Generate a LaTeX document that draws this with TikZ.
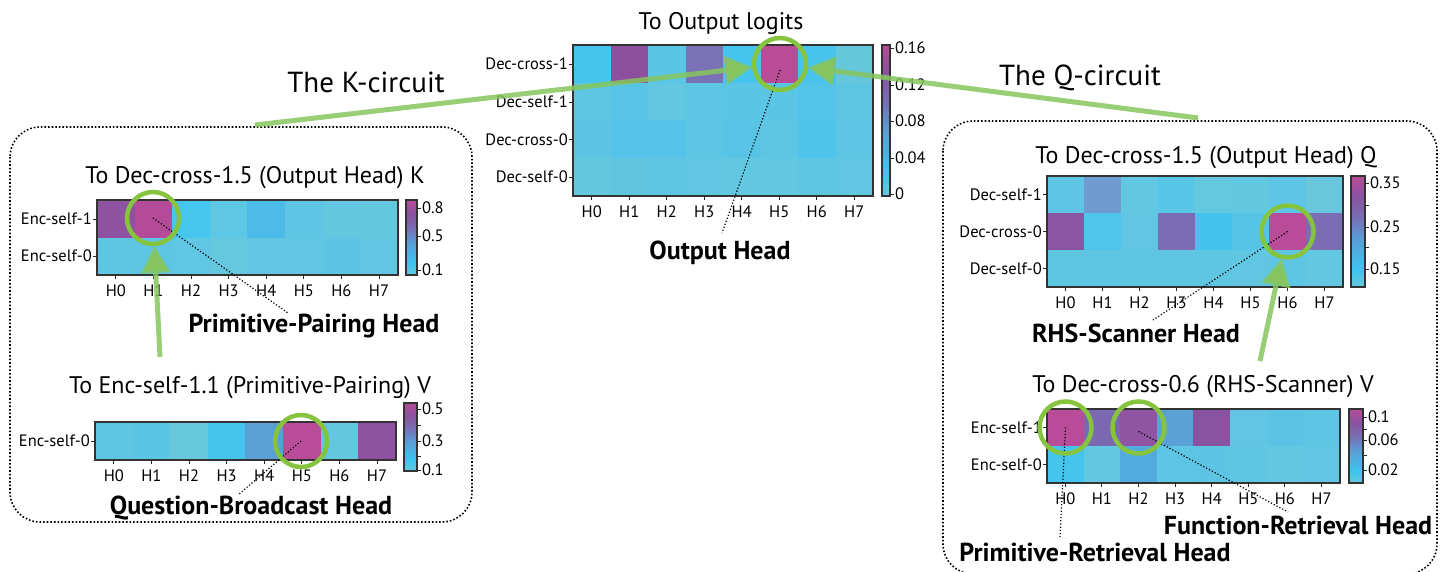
\documentclass[tikz,border=0pt]{standalone}
\usepackage{fontspec}
\setmainfont{PT Sans}
\usetikzlibrary{arrows.meta}

\definecolor{ringgreen}{HTML}{86C440}
\definecolor{flowgreen}{HTML}{86C55E}
\definecolor{cb0}{HTML}{66C8DC}
\definecolor{cb1}{HTML}{3EC4F0}
\definecolor{cb2}{HTML}{5A9CD6}
\definecolor{cb3}{HTML}{7A6CB2}
\definecolor{cb4}{HTML}{8A52A0}
\definecolor{cb5}{HTML}{B84C98}

% colour scale used by every colour bar (bottom to top)
\pgfdeclareverticalshading{cmap}{100bp}{color(0bp)=(cb0); color(25bp)=(cb0);
  color(33bp)=(cb1); color(47bp)=(cb2); color(57bp)=(cb3); color(66bp)=(cb4);
  color(75bp)=(cb5); color(100bp)=(cb5)}

% one row of heat-map cells: x0, top y, cell width, cell height, colours
\newcommand{\hmrow}[5]{%
  \foreach \c [count=\i from 0] in {#5} {%
    \definecolor{cellc}{HTML}{\c}%
    \fill[cellc] ({#1+\i*#3},#2) rectangle ++(#3,#4);}}

% column labels H0..H7 with ticks: x0, bottom y, cell width
\newcommand{\hmcols}[3]{%
  \foreach \i in {0,...,7} {%
    \draw[tickline] ({#1+(\i+0.5)*#3},#2) -- ++(0,4);
    \node[collab] (col-\i-#2) at ({#1+(\i+0.5)*#3},{#2+16}) {H\i};}}

% a row label with its tick: x0, y, text
\newcommand{\hmrowlab}[3]{%
  \draw[tickline] (#1,#2) -- ++(-4,0);
  \node[rowlab] (rl-#2-#1) at ({#1-5},#2) {#3};}

% colour bar: x1, y1, x2, y2
\newcommand{\cbar}[4]{%
  \shade[shading=cmap] (#1,#2) rectangle (#3,#4);
  \draw[frame] (#1,#2) rectangle (#3,#4);}

% colour-bar tick: x, y, label (empty for a minor tick)
\newcommand{\cbtick}[3]{%
  \draw[tickline] (#1,#2) -- ++(4,0);
  \node[cblab] (cb-#2-#1) at ({#1+5},#2) {#3};}

\tikzset{
  frame/.style={draw=black!80, line width=1.3pt},
  tickline/.style={draw=black!85, line width=0.9pt},
  rowlab/.style={anchor=east, inner sep=0pt, font=\fontsize{16.5}{16.5}\selectfont},
  collab/.style={inner sep=0pt, font=\fontsize{16.5}{16.5}\selectfont},
  cblab/.style={anchor=west, inner sep=0pt, font=\fontsize{16.5}{16.5}\selectfont},
  ttl/.style={inner sep=0pt, font=\fontsize{24}{24}\selectfont},
  circuitlab/.style={inner sep=0pt, font=\fontsize{29}{29}\selectfont},
  headlab/.style={inner sep=0pt, font=\bfseries\fontsize{26}{26}\selectfont},
  ring/.style={circle, draw=ringgreen, line width=4.5pt, minimum size=52pt, inner sep=0pt, outer sep=2pt},
  flow/.style={draw=flowgreen, draw opacity=0.85, line width=5pt,
    -{Triangle[length=27pt,width=28pt,fill=flowgreen]}},
  leader/.style={draw=black, line width=1.2pt, dotted},
  panel/.style={draw=black, line width=1.6pt, dotted, rounded corners=30pt},
}

\begin{document}
\begin{tikzpicture}[x=1pt,y=-1pt]
\useasboundingbox (0,0) rectangle (1440,572);

% ---------- dotted panels ----------
\draw[panel] (10,127) rectangle (472,522);
\draw[panel] (943,121) rectangle (1437,574);

% ---------- centre: to output logits ----------
\node[ttl] (t-out) at (721,24) {To Output logits};
\hmrow{573}{45}{37.5}{37.75}{45C4EE,8E4F9E,5AC6E6,7A72B5,45C4EE,B94C97,48C4EC,66C7DC}
\hmrow{573}{82.75}{37.5}{37.75}{5EC5E3,58C4E6,62C7E0,5CC6E4,5AC5E5,5AC5E5,52C4E9,5EC6E3}
\hmrow{573}{120.5}{37.5}{37.75}{5CC5E4,55C4E8,55C4E8,5CC6E4,58C4E6,5EC6E3,4FC4EA,5CC6E4}
\hmrow{573}{158.25}{37.5}{37.75}{62C7DF,60C6E0,5EC6E2,60C6E1,62C7E0,62C7E0,5FC6E2,60C6E1}
\draw[frame] (573,45) rectangle (873,196);
\hmrowlab{573}{64}{Dec-cross-1}
\hmrowlab{573}{102}{Dec-self-1}
\hmrowlab{573}{139.5}{Dec-cross-0}
\hmrowlab{573}{177}{Dec-self-0}
\hmcols{573}{196}{37.5}
\cbar{882}{45}{890}{196}
\cbtick{890}{48}{0.16}
\cbtick{890}{85}{0.12}
\cbtick{890}{121}{0.08}
\cbtick{890}{158}{0.04}
\cbtick{890}{194}{0}

% ---------- left top: K of the output head ----------
\node[ttl] (t-k) at (255,178) {To Dec-cross-1.5 (Output Head) K};
\hmrow{97}{200}{37.6}{37.5}{8E52A0,B44B98,45C6EE,5EC8E4,4CBBE7,5EC6E4,63C7E0,63C7DD}
\hmrow{97}{237.5}{37.6}{37.5}{5EC6E2,5EC6E2,5FC6E3,66C8DF,60C6E2,60C6E2,5CC5E4,60C6E2}
\draw[frame] (97,200) rectangle (398,275);
\hmrowlab{97}{219}{Enc-self-1}
\hmrowlab{97}{256}{Enc-self-0}
\hmcols{97}{275}{37.6}
\cbar{406}{200}{417}{275}
\cbtick{417}{208}{0.8}
\cbtick{417}{236}{0.5}
\cbtick{417}{270}{0.1}

% ---------- left bottom: V of the primitive-pairing head ----------
\node[ttl] (t-v1) at (250,388) {To Enc-self-1.1 (Primitive-Pairing) V};
\hmrow{95}{422}{37.6}{38}{5EC5E3,5AC4E5,67C7DD,45C4EE,5AA0D4,B84C98,62C7DF,8C52A0}
\draw[frame] (95,422) rectangle (396,460);
\hmrowlab{95}{441}{Enc-self-0}
\hmcols{95}{460}{37.6}
\cbar{404}{403}{417}{471}
\cbtick{417}{409}{0.5}
\cbtick{417}{425}{}
\cbtick{417}{441}{0.3}
\cbtick{417}{456}{}
\cbtick{417}{470}{0.1}

% ---------- right top: Q of the output head ----------
\node[ttl] (t-q) at (1206,158) {To Dec-cross-1.5 (Output Head) Q};
\hmrow{1047}{176}{37}{37}{5EC6E4,6F9BD0,62C7E0,58C7E7,64C8DF,62C8E0,5EC5E6,68C7DC}
\hmrow{1047}{213}{37}{37}{8A55A2,50C5EB,60C6E3,7A6DB3,45C3EF,56C4E7,B84C98,7A6DB3}
\hmrow{1047}{250}{37}{37}{5FC6E2,5EC6E3,5FC6E2,5FC6E2,5FC6E2,60C6E1,5EC6E3,62C7E0}
\draw[frame] (1047,176) rectangle (1343,287);
\hmrowlab{1047}{194.5}{Dec-self-1}
\hmrowlab{1047}{231.5}{Dec-cross-0}
\hmrowlab{1047}{268.5}{Dec-self-0}
\hmcols{1047}{287}{37}
\cbar{1351}{176}{1365}{287}
\cbtick{1365}{183}{0.35}
\cbtick{1365}{205}{}
\cbtick{1365}{227}{0.25}
\cbtick{1365}{247}{}
\cbtick{1365}{269}{0.15}

% ---------- right bottom: V of the RHS-scanner head ----------
\node[ttl] (t-v2) at (1203,387) {To Dec-cross-0.6 (RHS-Scanner) V};
\hmrow{1047}{409}{36.6}{37}{B84C98,7A69B0,8F55A2,5AA2D6,8854A2,60C6E3,5CC3E5,5EC5E4}
\hmrow{1047}{446}{36.6}{37}{45C4EE,62C7E0,52AADE,5DC6E4,5EC4E4,5EC6E3,62C7E0,60C6E2}
\draw[frame] (1047,409) rectangle (1340,483);
\hmrowlab{1047}{427.5}{Enc-self-1}
\hmrowlab{1047}{464.5}{Enc-self-0}
\hmcols{1047}{483}{36.6}
\cbar{1349}{409}{1363}{483}
\cbtick{1363}{417}{0.1}
\cbtick{1363}{429}{}
\cbtick{1363}{440}{0.06}
\cbtick{1363}{455}{}
\cbtick{1363}{470}{0.02}

% ---------- head labels and their leaders ----------
\node[headlab] (h-out) at (720,253) {Output Head};
\node[headlab] (h-pp) at (314,326) {Primitive-Pairing Head};
\node[headlab] (h-qb) at (251,508) {Question-Broadcast Head};
\node[headlab] (h-rhs) at (1136,333) {RHS-Scanner Head};
\node[headlab] (h-fr) at (1298,525) {Function-Retrieval Head};
\node[headlab] (h-pr) at (1095,552) {Primitive-Retrieval Head};

\coordinate (c-out) at (780,64);
\coordinate (c-pp) at (153,218);
\coordinate (c-qb) at (301,441);
\coordinate (c-rhs) at (1287.5,231.5);
\coordinate (c-pr) at (1065.5,427.5);
\coordinate (c-fr) at (1138.5,427.5);

\coordinate (e-out) at (722,233);
\coordinate (e-pp) at (288,313);
\coordinate (e-qb) at (238,495);
\coordinate (e-rhs) at (1153,320);
\coordinate (e-pr) at (1060,537);
\coordinate (e-fr) at (1288,512);

\draw[leader] ([yshift=-6pt]c-out) -- (e-out);
\draw[leader] (c-pp) -- (e-pp);
\draw[leader] (c-qb) -- (e-qb);
\draw[leader] (c-rhs) -- (e-rhs);
\draw[leader] (c-pr) -- (e-pr);
\draw[leader] ([yshift=-4pt]c-fr) -- (e-fr);

% ---------- highlighted heads ----------
\node[ring] (r-out) at (c-out) {};
\node[ring] (r-pp) at (c-pp) {};
\node[ring] (r-qb) at (c-qb) {};
\node[ring] (r-rhs) at (c-rhs) {};
\node[ring] (r-pr) at (c-pr) {};
\node[ring] (r-fr) at (c-fr) {};

% ---------- circuit arrows ----------
\node[circuitlab] (k-lab) at (366,82) {The K-circuit};
\node[circuitlab] (q-lab) at (1080,78) {The Q-circuit};
\coordinate (k-start) at (255,125);
\coordinate (q-start) at (1198,118);
\coordinate (pp-start) at (160,357);
\coordinate (rhs-start) at (1260,361);
\draw[flow] (k-start) -- (r-out);
\draw[flow] (q-start) -- (r-out);
\draw[flow] (pp-start) -- (r-pp);
\draw[flow] (rhs-start) -- (r-rhs);
\end{tikzpicture}
\end{document}
